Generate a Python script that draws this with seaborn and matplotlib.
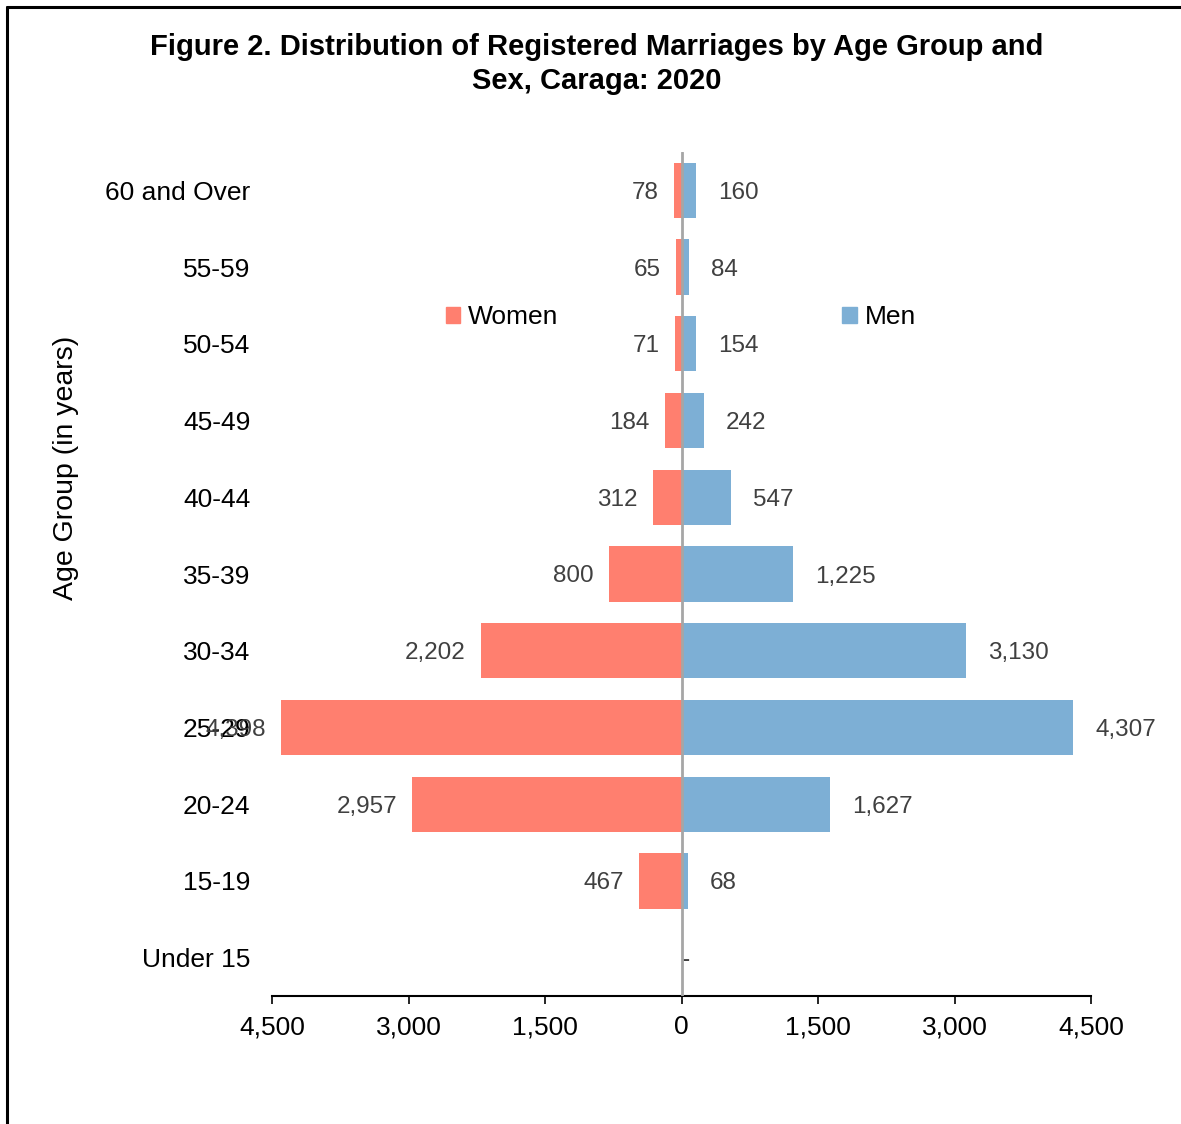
import matplotlib
matplotlib.use("Agg")
import matplotlib.pyplot as plt
import seaborn as sns
import pandas as pd
from matplotlib.lines import Line2D
from matplotlib.patches import Patch

age_groups = ["60 and Over", "55-59", "50-54", "45-49", "40-44", "35-39",
              "30-34", "25-29", "20-24", "15-19", "Under 15"]
women = [78, 65, 71, 184, 312, 800, 2202, 4398, 2957, 467, 0]
men = [160, 84, 154, 242, 547, 1225, 3130, 4307, 1627, 68, 0]
xticks = [-4500, -3000, -1500, 0, 1500, 3000, 4500]

women_color = "#FF7F6F"
men_color = "#7DAFD5"

sns.set_theme(style="white")
plt.rcParams['font.family'] = ['Liberation Sans', 'DejaVu Sans']
plt.rcParams['text.color'] = 'black'

df = pd.DataFrame({"age": age_groups, "women": [-w for w in women], "men": men})

fig = plt.figure(figsize=(11.81, 11.24), dpi=100)
ax = fig.add_axes([272 / 1181, 128 / 1124, (1091 - 272) / 1181, (972 - 128) / 1124])

sns.barplot(data=df, x="women", y="age", order=age_groups, color=women_color,
            width=0.72, orient="h", ax=ax, saturation=1, linewidth=0)
sns.barplot(data=df, x="men", y="age", order=age_groups, color=men_color,
            width=0.72, orient="h", ax=ax, saturation=1, linewidth=0)

ax.set_xlim(-4500, 4500)
ax.set_ylim(10.5, -0.5)
ax.axvline(0, color="#A6A6A6", lw=2, zorder=5)

for i, (w, m) in enumerate(zip(women, men)):
    if w == 0 and m == 0:
        ax.annotate("-", (0, i), xytext=(0.5, 0), textcoords="offset points",
                    ha="left", va="center_baseline", fontsize=15, fontweight="bold",
                    color="#404040", zorder=6)
        continue
    ax.annotate(f"{w:,}", (-w, i), xytext=(-11, 0), textcoords="offset points",
                ha="right", va="center_baseline", fontsize=17.5, color="#404040")
    ax.annotate(f"{m:,}", (m, i), xytext=(16, 0), textcoords="offset points",
                ha="left", va="center_baseline", fontsize=17.5, color="#404040")

ax.set_xticks(xticks)
ax.set_xticklabels([f"{abs(t):,}" for t in xticks], fontsize=19, color="black")
ax.tick_params(axis="x", bottom=True, direction="out", length=6, width=1.2,
               color="black", pad=8)
ax.tick_params(axis="y", left=False, labelsize=19, labelcolor="black", pad=9.5)
ax.set_xlabel("")
ax.set_ylabel("")
for s in ["top", "right", "left"]:
    ax.spines[s].set_visible(False)
ax.spines["bottom"].set_color("black")
ax.spines["bottom"].set_linewidth(1.5)

handles = [Patch(color=women_color), Patch(color=men_color)]
leg = ax.legend(handles, ["Women", "Men"], ncol=2, frameon=False, fontsize=19,
                loc="center", bbox_to_anchor=((681 - 272) / (1091 - 272), (996 - 317) / (996 - 152)),
                bbox_transform=ax.transAxes, handlelength=0.55, handleheight=0.55,
                handletextpad=0.3, columnspacing=10.75, labelcolor="black")

fig.text(66 / 1181, 1 - 468 / 1124, "Age Group (in years)", rotation=90,
         ha="center", va="center", fontsize=20.5, color="black")
fig.text(597 / 1181, 1 - 64 / 1124,
         "Figure 2. Distribution of Registered Marriages by Age Group and\nSex, Caraga: 2020",
         ha="center", va="center", fontsize=21, fontweight="bold", linespacing=1.25,
         color="black")

fig.add_artist(Line2D([7 / 1181, 7 / 1181], [0, 1 - 7 / 1124], color="black", lw=2.2,
                      transform=fig.transFigure))
fig.add_artist(Line2D([7 / 1181, 1], [1 - 7 / 1124, 1 - 7 / 1124], color="black", lw=2.2,
                      transform=fig.transFigure))

fig.savefig("out.png", dpi=100)
